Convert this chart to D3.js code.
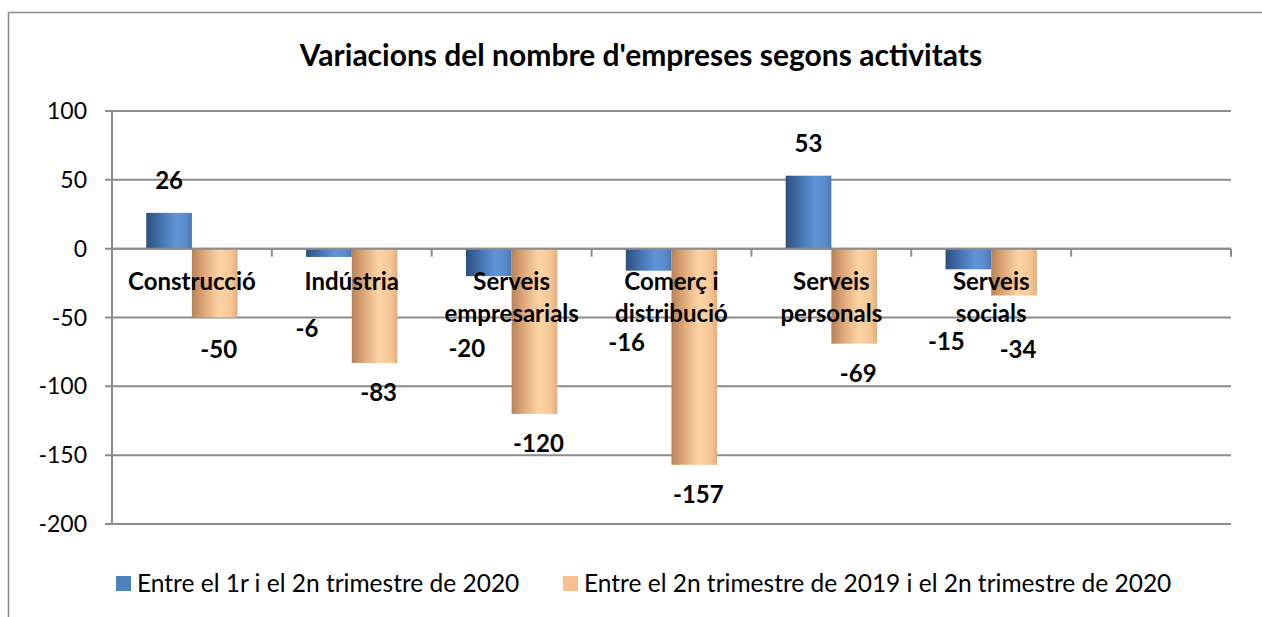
<!DOCTYPE html>
<html><head><meta charset="utf-8">
<script src="https://cdn.jsdelivr.net/npm/d3@7"></script>
<style>body{margin:0;background:#fff}svg{display:block}</style>
</head><body><svg id="c" width="1262" height="617"></svg>
<script>
const categories = [["Construcció"],["Indústria"],["Serveis","empresarials"],["Comerç i","distribució"],["Serveis","personals"],["Serveis","socials"],[""]];
const series1 = [26,-6,-20,-16,53,-15,null];
const series2 = [-50,-83,-120,-157,-69,-34,null];
const seriesNames = ["Entre el 1r i el 2n trimestre de 2020","Entre el 2n trimestre de 2019 i el 2n trimestre de 2020"];
const yTicks = [100,50,0,-50,-100,-150,-200];
const title = "Variacions del nombre d'empreses segons activitats";

const FONT = "Lato, 'Open Sans', sans-serif";
const svg = d3.select("#c");
const defs = svg.append("defs");
function grad(id, stops){
  const g = defs.append("linearGradient").attr("id",id).attr("x1","0%").attr("x2","100%").attr("y1","0%").attr("y2","0%");
  stops.forEach(s=>g.append("stop").attr("offset",s[0]).attr("stop-color",s[1]));
}
grad("gBlue",[["0%","#2d4e7c"],["35%","#4777b4"],["65%","#5f94d6"],["85%","#5a8ccc"],["100%","#4a78b4"]]);
grad("gOrange",[["0%","#b78257"],["30%","#e3ad7e"],["60%","#fdd4a6"],["85%","#f6c796"],["100%","#e2ae7e"]]);

// outer border
svg.append("rect").attr("x",8.5).attr("y",12.5).attr("width",1262).attr("height",620)
  .attr("fill","none").attr("stroke","#8a8a8a").attr("stroke-width",1.5);

const L=112, R=1231, T=111, B=524;
const idx = categories.map((d,i)=>i);
const x = d3.scaleBand().domain(idx).range([L,R]).paddingInner(0).paddingOuter(0);
const y = d3.scaleLinear().domain([-200,100]).range([B,T]);
const bw = x.bandwidth();
const barW = bw/(2+1.5);
const gapOff = barW*0.75;

// gridlines
svg.append("g").selectAll("line").data(yTicks).join("line")
  .attr("x1",L-7).attr("x2",R).attr("y1",d=>y(d)).attr("y2",d=>y(d))
  .attr("stroke","#8c8c8c").attr("stroke-width",2);
// y axis line
svg.append("line").attr("x1",L).attr("x2",L).attr("y1",T).attr("y2",B+1).attr("stroke","#8c8c8c").attr("stroke-width",2);
// y tick labels
svg.append("g").selectAll("text").data(yTicks).join("text")
  .attr("x",87).attr("y",d=>y(d)).attr("dy","0.35em").attr("text-anchor","end")
  .attr("font-family",FONT).attr("font-size",23).attr("fill","#000").text(d=>d);

// bars
const bars = svg.append("g");
idx.forEach(i=>{
  const x0 = x(i)+gapOff;
  if(series1[i]!=null){
    const v=series1[i];
    bars.append("rect").attr("x",x0).attr("width",barW)
      .attr("y",y(Math.max(0,v))).attr("height",Math.abs(y(v)-y(0))).attr("fill","url(#gBlue)");
  }
  if(series2[i]!=null){
    const v=series2[i];
    bars.append("rect").attr("x",x0+barW).attr("width",barW)
      .attr("y",y(Math.max(0,v))).attr("height",Math.abs(y(v)-y(0))).attr("fill","url(#gOrange)");
  }
});
// zero line on top
svg.append("line").attr("x1",L).attr("x2",R).attr("y1",y(0)).attr("y2",y(0)).attr("stroke","#8c8c8c").attr("stroke-width",2);
// category ticks
svg.append("g").selectAll("line").data(idx.slice(1).concat([idx.length])).join("line")
  .attr("x1",d=>L+d*bw).attr("x2",d=>L+d*bw).attr("y1",y(0)).attr("y2",y(0)+8)
  .attr("stroke","#8c8c8c").attr("stroke-width",2);

// category labels
const cl = svg.append("g");
idx.forEach(i=>{
  const t = cl.append("text").attr("x",x(i)+bw/2).attr("y",y(0)+41).attr("text-anchor","middle")
    .attr("font-family",FONT).attr("font-weight","bold").attr("font-size",24).attr("fill","#000");
  categories[i].forEach((ln,k)=>t.append("tspan").attr("x",x(i)+bw/2).attr("dy",k?32:0).text(ln));
});

// value labels
const vl = svg.append("g").attr("font-family",FONT).attr("font-weight","bold").attr("font-size",24).attr("text-anchor","middle");
idx.forEach(i=>{
  const c1 = x(i)+gapOff+barW/2, c2 = c1+barW;
  if(series1[i]!=null){
    const v=series1[i];
    const ty = v>=0 ? y(v)-32 : y(v)+72;
    const tx = v>=0 ? c1 : c1-22;
    vl.append("text").attr("x",tx).attr("y",ty).attr("dy","0.35em").text(v);
  }
  if(series2[i]!=null){
    const v=series2[i];
    const ty = v>=0 ? y(v)-32 : Math.max(y(v)+30, 350);
    vl.append("text").attr("x",c2+4).attr("y",ty).attr("dy","0.35em").text(v);
  }
});

// title
svg.append("text").attr("x",641).attr("y",55).attr("dy","0.35em").attr("text-anchor","middle")
  .attr("font-family",FONT).attr("font-weight","bold").attr("font-size",30).text(title);

// legend
const lg = svg.append("g").attr("font-family",FONT).attr("font-size",24.5);
const legX=[116,563], fills=["#4f81bd","#f9c08f"];
seriesNames.forEach((n,k)=>{
  lg.append("rect").attr("x",legX[k]).attr("y",576).attr("width",15).attr("height",15).attr("fill",fills[k]);
  lg.append("text").attr("x",legX[k]+21).attr("y",583).attr("dy","0.35em").text(n);
});
</script></body></html>
